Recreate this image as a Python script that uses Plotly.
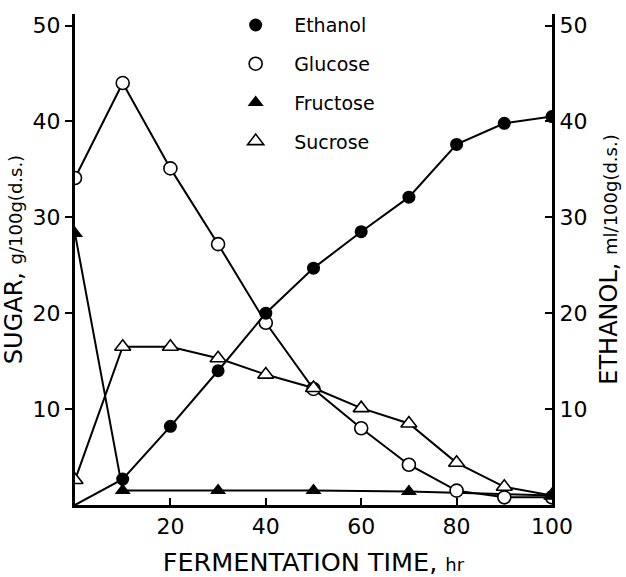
import plotly.graph_objects as go

time = [0, 10, 20, 30, 40, 50, 60, 70, 80, 90, 100]
ethanol = [0, 2.7, 8.2, 14.0, 20.0, 24.7, 28.5, 32.1, 37.6, 39.8, 40.5]
glucose = [34.1, 44.0, 35.1, 27.2, 19.0, 12.1, 8.0, 4.2, 1.5, 0.8, 0.8]
sucrose = [2.6, 16.5, 16.5, 15.3, 13.6, 12.2, 10.1, 8.5, 4.4, 1.9, 1.0]
fru_time = [0, 10, 30, 50, 70, 100]
fructose = [28.3, 1.5, 1.5, 1.5, 1.4, 1.0]

FONT = "DejaVu Sans, Liberation Sans, Arial, sans-serif"
LINE = dict(color="black", width=2)

M_ETH = dict(symbol="circle", size=13, color="black")
M_GLU = dict(symbol="circle", size=13, color="white", line=dict(width=1.6, color="black"))
M_FRU = dict(symbol="triangle-up", size=14, color="black")
M_SUC = dict(symbol="triangle-up", size=14, color="white", line=dict(width=1.6, color="black"))

fig = go.Figure()

# lines first
fig.add_trace(go.Scatter(x=time, y=glucose, mode="lines", line=LINE, showlegend=False, yaxis="y"))
fig.add_trace(go.Scatter(x=time, y=sucrose, mode="lines", line=LINE, showlegend=False, yaxis="y"))
fig.add_trace(go.Scatter(x=fru_time, y=fructose, mode="lines", line=LINE, showlegend=False, yaxis="y"))
fig.add_trace(go.Scatter(x=time, y=ethanol, mode="lines", line=LINE, showlegend=False, yaxis="y2"))

# markers
fig.add_trace(go.Scatter(x=time, y=glucose, mode="markers", marker=M_GLU,
                         showlegend=False, yaxis="y", cliponaxis=True))
fig.add_trace(go.Scatter(x=time, y=sucrose, mode="markers", marker=M_SUC,
                         showlegend=False, yaxis="y", cliponaxis=True))
fig.add_trace(go.Scatter(x=fru_time, y=fructose, mode="markers", marker=M_FRU,
                         showlegend=False, yaxis="y", cliponaxis=True))
fig.add_trace(go.Scatter(x=time[1:], y=ethanol[1:], mode="markers", marker=M_ETH,
                         showlegend=False, yaxis="y2", cliponaxis=True))

# Legend entries
legend_items = [("Ethanol", M_ETH), ("Glucose", M_GLU), ("Fructose", M_FRU), ("Sucrose", M_SUC)]
for i, (name, mk) in enumerate(legend_items):
    fig.add_trace(go.Scatter(x=[None], y=[None], mode="markers", name=name,
                             marker=mk, legendgroup=f"g{i}", showlegend=True))

fig.update_layout(
    width=626, height=577,
    margin=dict(l=75, r=74, t=14, b=72, autoexpand=False),
    paper_bgcolor="white", plot_bgcolor="white",
    font=dict(family=FONT, color="black", size=22),
    legend=dict(x=0.298, y=1.016, xanchor="left", yanchor="top",
                bgcolor="rgba(0,0,0,0)", tracegroupgap=11,
                font=dict(size=19), itemwidth=67),
    xaxis=dict(range=[0, 100], tickvals=[20, 40, 60, 80, 100], automargin=False,
               ticks="inside", ticklen=7, tickwidth=2, tickcolor="black",
               showline=True, linecolor="black", linewidth=3,
               showgrid=False, zeroline=False,
               title=dict(text="FERMENTATION TIME, <span style='font-size:18px'>hr</span>",
                          font=dict(size=25.5), standoff=17)),
    yaxis=dict(range=[0, 51.2], tickvals=[10, 20, 30, 40, 50], automargin=False,
               ticks="outside", ticklen=7, tickwidth=2, tickcolor="black",
               showline=True, linecolor="black", linewidth=3,
               showgrid=False, zeroline=False,
               title=dict(text="SUGAR, <span style='font-size:18px'>g/100g(d.s.)</span>",
                          font=dict(size=24), standoff=4)),
    yaxis2=dict(range=[0, 51.2], tickvals=[10, 20, 30, 40, 50], overlaying="y", side="right",
                automargin=False,
                ticks="inside", ticklen=7, tickwidth=2, tickcolor="black",
                showline=True, linecolor="black", linewidth=3,
                showgrid=False, zeroline=False,
                title=dict(text="ETHANOL, <span style='font-size:18px'>ml/100g(d.s.)</span>",
                           font=dict(size=24), standoff=14)),
)

fig.write_html("out.html")
